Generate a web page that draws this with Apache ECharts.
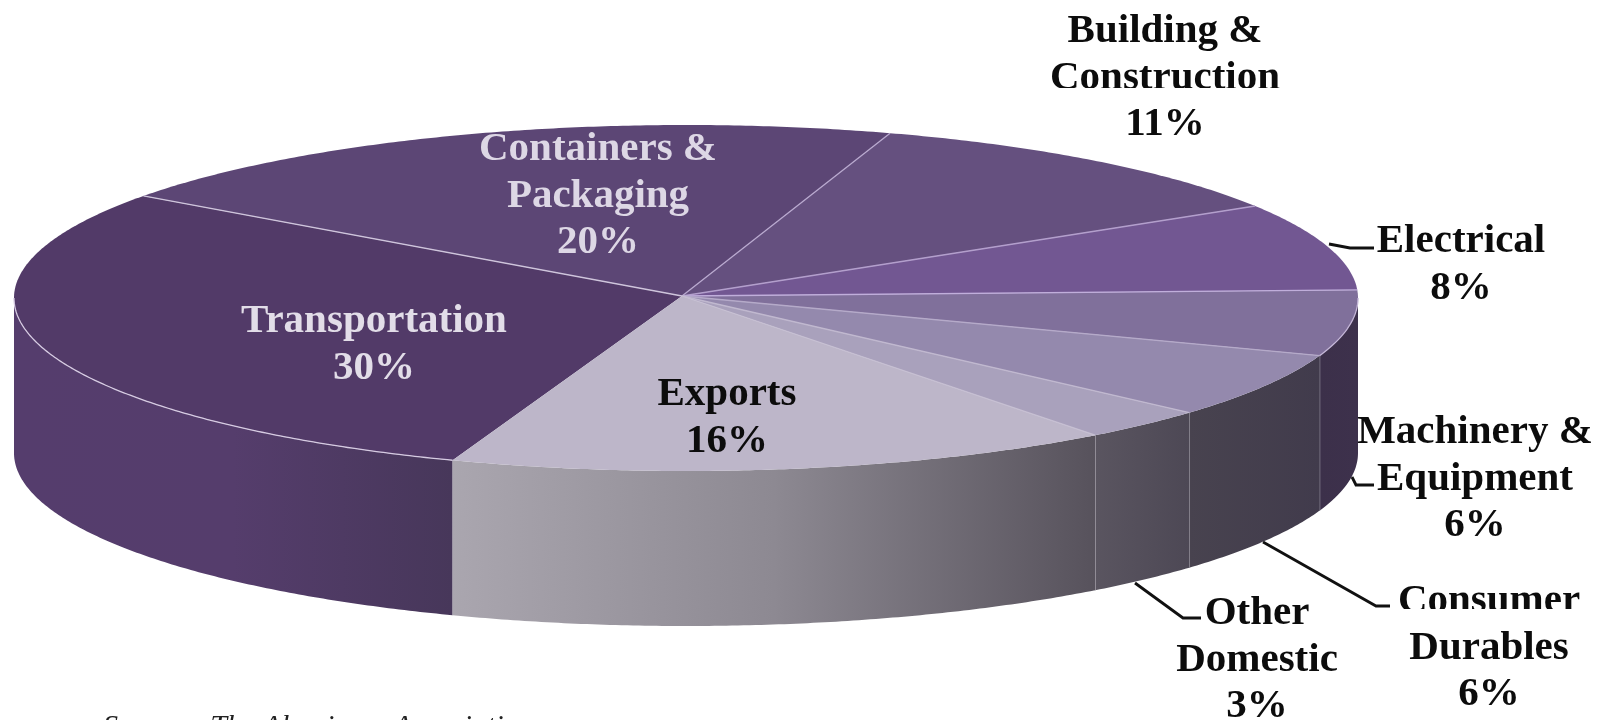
<!DOCTYPE html>
<html>
<head>
<meta charset="utf-8">
<style>html,body{margin:0;padding:0;background:#fff}#c{width:1604px;height:720px}</style>
<script src="https://cdn.jsdelivr.net/npm/echarts@6/dist/echarts.min.js"></script>
</head>
<body>
<div id="c"></div>
<script>
// DATA
const categories = ['Transportation', 'Containers &\nPackaging', 'Building &\nConstruction', 'Electrical', 'Machinery &\nEquipment', 'Consumer\nDurables', 'Other\nDomestic', 'Exports'];
const shares = [30, 20, 11, 8, 6, 6, 3, 16];

// STYLE AND LAYOUT
const topColors = ['#523a68', '#5c4675', '#65507f', '#725792', '#80709b', '#9489ad', '#a9a1bc', '#bdb6c9'];
const wallStops = [
  ['#553d6d', '#553d6c', '#47375a'], ['#555', '#555'], ['#555', '#555'], ['#3c304a', '#3c304a'],
  ['#3c304a', '#3d314c'], ['#48434f', '#413b4c'], ['#5a5560', '#4d4855'], ['#aaa6af', '#8d8992', '#57525c']
];
const textColors = ['#e2dde8', '#ddd7e5', '#0c0c0c', '#0c0c0c', '#0c0c0c', '#0c0c0c', '#0c0c0c', '#0c0c0c'];
const labelAt = [[374, 345], [598, 196], [1165, 78], [1461, 265], [1475, 479], [1489, 648], [1257, 660], [727, 418]];
const leaders = [null, null, null,
  [[1329, 244], [1350, 248], [1374, 248]], [[1352, 477], [1356, 485], [1374, 485]],
  [[1263, 542], [1376, 606], [1390, 606]], [[1135, 583], [1183, 618], [1201, 618]], null];
const separatorColors = ['#cfc5dc', '#b9a9cf', '#b39fcc', '#c0aedb', '#b5aac9', '#c0b8cf', '#c6bfd2', null];
const wallLineColors = [null, null, null, null, '#8f8a99', '#97939e', '#a5a1aa', null];
const rimColors = ['#d6cbe2', null, null, null, '#c3b5d6', null, null, null];
const cx = 686, cy = 298, rx = 672, ry = 173, depth = 155, apexX = 682, apexY = 296;
const startDeg = 109.0;
const perspectiveDeg = 1.4;
const serif = '"Liberation Serif", "DejaVu Serif", serif';

const total = shares.reduce((a, b) => a + b, 0);
const rim = (deg, dy) => {
  const d = deg * Math.PI / 180;
  // slight foreshortening: near arcs spread out and far arcs close up
  const t = d + perspectiveDeg * Math.sin(d) * Math.PI / 180;
  return [cx + rx * Math.cos(t), cy + ry * Math.sin(t) + (dy || 0)];
};
const arc = (a0, a1, dy) => {
  const n = Math.max(2, Math.ceil(Math.abs(a1 - a0) / 0.5));
  const pts = [];
  for (let i = 0; i <= n; i++) pts.push(rim(a0 + (a1 - a0) * i / n, dy));
  return pts;
};
const bounds = i => {
  const before = shares.slice(0, i).reduce((a, b) => a + b, 0);
  const a0 = startDeg + before / total * 360;
  return [a0, a0 + shares[i] / total * 360];
};
// the visible front part of a slice's outer wall, sin(angle) > 0
const frontSpans = (a0, a1) => {
  const out = [];
  for (const k of [0, 360]) {
    const s = Math.max(a0, k), e = Math.min(a1, k + 180);
    if (e > s) out.push([s, e]);
  }
  return out;
};

function renderWall(params, api) {
  const i = params.dataIndex;
  const [a0, a1] = bounds(i);
  const children = [];
  const stops = wallStops[i];
  frontSpans(a0, a1).forEach(([s, e]) => {
    children.push({
      type: 'polygon',
      shape: { points: arc(s, e).concat(arc(e, s, depth)) },
      style: {
        fill: {
          type: 'linear', x: 0, y: 0, x2: 1, y2: 0,
          colorStops: stops.map((c, k) => ({ offset: k / (stops.length - 1), color: c }))
        }
      }
    });
    if (wallLineColors[i]) {
      children.push({
        type: 'line',
        shape: { x1: rim(e)[0], y1: rim(e)[1], x2: rim(e, depth)[0], y2: rim(e, depth)[1] },
        style: { stroke: wallLineColors[i], lineWidth: 1.3 }
      });
    }
  });
  return { type: 'group', children };
}

function renderTop(params, api) {
  const i = params.dataIndex;
  const [a0, a1] = bounds(i);
  const children = [{
    type: 'polygon',
    shape: { points: [[apexX, apexY]].concat(arc(a0, a1)) },
    style: { fill: topColors[i] }
  }];
  return { type: 'group', children };
}

function renderEdges(params, api) {
  const i = params.dataIndex;
  const [a0, a1] = bounds(i);
  const children = [];
  if (separatorColors[i]) {
    const p = rim(a1);
    children.push({
      type: 'line',
      shape: { x1: apexX, y1: apexY, x2: p[0], y2: p[1] },
      style: { stroke: separatorColors[i], lineWidth: 1.3 }
    });
  }
  if (rimColors[i]) {
    frontSpans(a0, a1).forEach(([s, e]) => {
      children.push({
        type: 'polyline',
        shape: { points: arc(s, e) },
        style: { stroke: rimColors[i], fill: 'none', lineWidth: 1.3 }
      });
    });
  }
  return { type: 'group', children };
}

function renderLabel(params, api) {
  const i = params.dataIndex;
  const children = [];
  if (leaders[i]) {
    children.push({
      type: 'polyline',
      shape: { points: leaders[i] },
      style: { stroke: '#111', fill: 'none', lineWidth: 2.8 }
    });
  }
  children.push({
    type: 'text',
    x: labelAt[i][0],
    y: labelAt[i][1],
    style: {
      text: categories[i] + '\n' + api.value(0) + '%',
      font: 'bold 41px ' + serif,
      lineHeight: 46.5,
      fill: textColors[i],
      align: 'center',
      verticalAlign: 'middle'
    }
  });
  return { type: 'group', children };
}

const seriesData = shares.map((v, i) => ({ name: categories[i].replace('\n', ' '), value: [v] }));
const layer = (renderItem, z) => ({
  type: 'custom', coordinateSystem: 'none', renderItem, data: seriesData, z, silent: true, animation: false
});

const chart = echarts.init(document.getElementById('c'), null, { renderer: 'canvas', width: 1604, height: 720 });
chart.setOption({
  backgroundColor: '#fff',
  animation: false,
  series: [layer(renderWall, 1), layer(renderTop, 2), layer(renderEdges, 3), layer(renderLabel, 4)],
  graphic: [
    { type: 'text', x: 103, y: 712, z: 5,
      style: { text: 'Source:  The Aluminum Association', font: 'italic 30px ' + serif, fill: '#222', verticalAlign: 'top' } },
    // the reference's text is cut off by white here
    { type: 'rect', z: 6, shape: { x: 1040, y: 88, width: 260, height: 18 }, style: { fill: '#fff' } },
    { type: 'rect', z: 6, shape: { x: 1392, y: 609, width: 190, height: 12 }, style: { fill: '#fff' } }
  ]
});
</script>
</body>
</html>
